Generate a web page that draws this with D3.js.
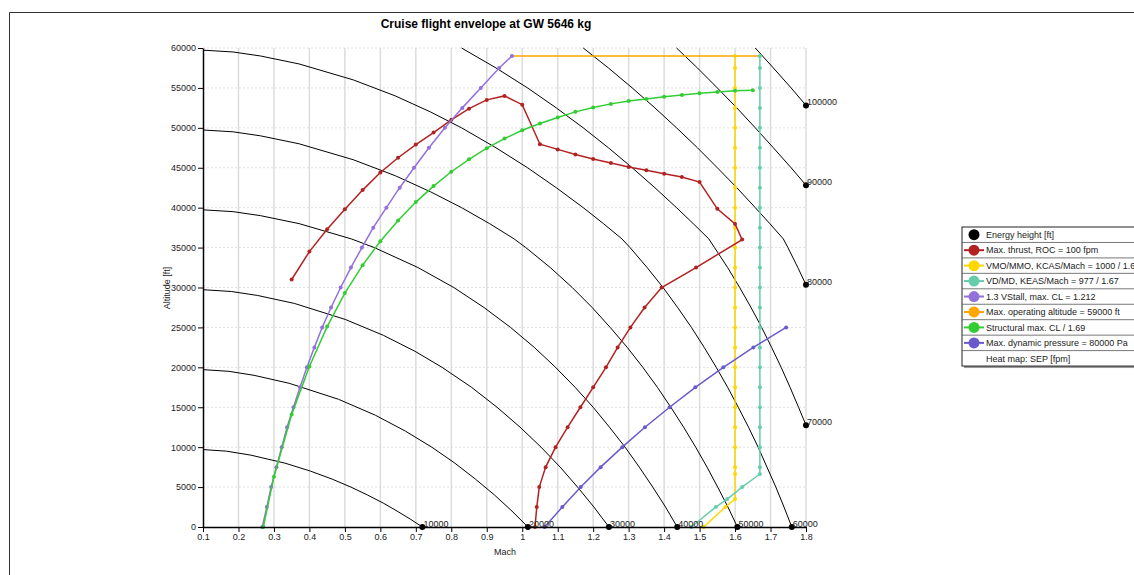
<!DOCTYPE html>
<html><head><meta charset="utf-8">
<script src="https://cdn.jsdelivr.net/npm/d3@7"></script>
<style>
body{margin:0;background:#fff;}
text{font-family:"Liberation Sans",Arial,sans-serif;}
</style></head>
<body><svg id="c" width="1134" height="575"></svg>
<script>
// ---------- data ----------
const xTicks = [0.1,0.2,0.3,0.4,0.5,0.6,0.7,0.8,0.9,1,1.1,1.2,1.3,1.4,1.5,1.6,1.7,1.8];
const yTicks = [0,5000,10000,15000,20000,25000,30000,35000,40000,45000,50000,55000,60000];

// energy height curves [Mach, altitude ft]
const energy10000 = [[0,10000],[0.166,9500],[0.235,9000],[0.331,8000],[0.403,7000],[0.464,6000],[0.517,5000],[0.564,4000],[0.608,3000],[0.647,2000],[0.684,1000],[0.7185,0]];
const energy20000 = [[0,20000],[0.173,19500],[0.244,19000],[0.343,18000],[0.482,16000],[0.586,14000],[0.671,12000],[0.745,10000],[0.810,8000],[0.868,6000],[0.922,4000],[0.971,2000],[1.016,0]];
const energy30000 = [[0,30000],[0.180,29500],[0.254,29000],[0.358,28000],[0.501,26000],[0.609,24000],[0.698,22000],[0.774,20000],[0.857,17500],[0.929,15000],[0.994,12500],[1.053,10000],[1.107,7500],[1.156,5000],[1.202,2500],[1.2445,0]];
const energy40000 = [[0,40000],[0.185,39500],[0.262,39000],[0.371,38000],[0.518,36089],[0.583,35000],[0.706,32500],[0.807,30000],[0.892,27500],[0.967,25000],[1.034,22500],[1.094,20000],[1.149,17500],[1.200,15000],[1.246,12500],[1.290,10000],[1.330,7500],[1.368,5000],[1.404,2500],[1.437,0]];
const energy50000 = [[0,50000],[0.185,49500],[0.262,49000],[0.371,48000],[0.524,46000],[0.642,44000],[0.741,42000],[0.829,40000],[0.908,38000],[0.977,36089],[1.010,35000],[1.079,32500],[1.141,30000],[1.197,27500],[1.248,25000],[1.296,22500],[1.340,20000],[1.381,17500],[1.419,15000],[1.455,12500],[1.489,10000],[1.521,7500],[1.551,5000],[1.580,2500],[1.6066,0]];
const energy60000 = [[0,60000],[0.185,59500],[0.262,59000],[0.371,58000],[0.524,56000],[0.642,54000],[0.741,52000],[0.829,50000],[0.926,47500],[1.015,45000],[1.096,42500],[1.172,40000],[1.229,38000],[1.281,36089],[1.304,35000],[1.352,32500],[1.397,30000],[1.438,27500],[1.477,25000],[1.513,22500],[1.547,20000],[1.579,17500],[1.609,15000],[1.638,12500],[1.665,10000],[1.690,7500],[1.715,5000],[1.738,2500],[1.760,0]];
const energy70000 = [[0.829,60000],[0.926,57500],[1.015,55000],[1.096,52500],[1.172,50000],[1.243,47500],[1.310,45000],[1.374,42500],[1.435,40000],[1.482,38000],[1.526,36089],[1.542,35000],[1.579,32500],[1.613,30000],[1.645,27500],[1.675,25000],[1.703,22500],[1.730,20000],[1.755,17500],[1.779,15000],[1.8,12750]];
const energy80000 = [[1.172,60000],[1.243,57500],[1.310,55000],[1.374,52500],[1.435,50000],[1.494,47500],[1.550,45000],[1.605,42500],[1.657,40000],[1.698,38000],[1.736,36089],[1.749,35000],[1.777,32500],[1.8,30330]];
const energy90000 = [[1.435,60000],[1.494,57500],[1.550,55000],[1.605,52500],[1.657,50000],[1.708,47500],[1.758,45000],[1.8,42810]];
const energy100000 = [[1.657,60000],[1.708,57500],[1.758,55000],[1.8,52810]];
const energyLevels = [10000,20000,30000,40000,50000,60000,70000,80000,90000,100000];

const maxThrust = [[0.35,31000],[0.40,34500],[0.45,37300],[0.50,39800],[0.55,42200],[0.60,44400],[0.65,46250],[0.70,47900],[0.75,49400],[0.80,51000],[0.85,52400],[0.90,53500],[0.95,54000],[1.00,52900],[1.05,47950],[1.10,47300],[1.15,46650],[1.20,46100],[1.25,45600],[1.30,45100],[1.35,44700],[1.40,44250],[1.45,43850],[1.50,43200],[1.55,39850],[1.60,37950],[1.62,36000],[1.49,32500],[1.393,30000],[1.345,27500],[1.305,25000],[1.269,22500],[1.236,20000],[1.200,17500],[1.164,15000],[1.128,12500],[1.094,10000],[1.066,7500],[1.048,5000],[1.041,2500],[1.036,0]];
const vmo = [[1.6,59000],[1.6,57500],[1.6,55000],[1.6,52500],[1.6,50000],[1.6,47500],[1.6,45000],[1.6,42500],[1.6,40000],[1.6,37500],[1.6,35000],[1.6,32500],[1.6,30000],[1.6,27500],[1.6,25000],[1.6,22500],[1.6,20000],[1.6,17500],[1.6,15000],[1.6,12500],[1.6,10000],[1.6,7500],[1.6,6640],[1.6,3500],[1.5726,2500],[1.5116,0]];
const vd = [[1.67,59000],[1.67,57500],[1.67,55000],[1.67,52500],[1.67,50000],[1.67,47500],[1.67,45000],[1.67,42500],[1.67,40000],[1.67,37500],[1.67,35000],[1.67,32500],[1.67,30000],[1.67,27500],[1.67,25000],[1.67,22500],[1.67,20000],[1.67,17500],[1.67,15000],[1.67,12500],[1.67,10000],[1.67,7500],[1.67,6640],[1.62,5000],[1.578,3500],[1.5455,2500],[1.4767,0]];
const vstall = [[0.267,0],[0.28,2500],[0.292,5000],[0.307,7500],[0.322,10000],[0.337,12500],[0.355,15000],[0.3735,17500],[0.393,20000],[0.414,22500],[0.436,25000],[0.461,27500],[0.488,30000],[0.517,32500],[0.548,35000],[0.58,37500],[0.617,40000],[0.6545,42500],[0.695,45000],[0.737,47500],[0.782,50000],[0.831,52500],[0.883,55000],[0.935,57500],[0.971,59000]];
const maxAlt = [[0.971,59000],[1.67,59000]];
const structCL = [[0.27,0],[0.30,6300],[0.35,14100],[0.40,20100],[0.45,25100],[0.50,29300],[0.55,32800],[0.60,35800],[0.65,38400],[0.70,40700],[0.75,42700],[0.80,44500],[0.85,46050],[0.90,47450],[0.95,48650],[1.00,49700],[1.05,50550],[1.10,51300],[1.15,52000],[1.20,52550],[1.25,53000],[1.30,53350],[1.35,53620],[1.40,53900],[1.45,54100],[1.50,54320],[1.55,54500],[1.60,54650],[1.65,54720]];
const maxQ = [[1.063,0],[1.113,2500],[1.165,5000],[1.221,7500],[1.282,10000],[1.346,12500],[1.4155,15000],[1.488,17500],[1.567,20000],[1.6515,22500],[1.744,25000]];

const legendLabels = ["Energy  height [ft]","Max. thrust, ROC = 100 fpm","VMO/MMO, KCAS/Mach = 1000  / 1.6","VD/MD, KEAS/Mach = 977  / 1.67","1.3 VStall,  max.  CL = 1.212","Max. operating  altitude  = 59000 ft","Structural max.  CL / 1.69","Max. dynamic  pressure  = 80000 Pa","Heat map:  SEP [fpm]"];
const legendColors = ["#000000","#B22222","#FFD700","#66CDAA","#9370DB","#FFA500","#32CD32","#6A5ACD",null];

// ---------- chart ----------
const svg = d3.select("#c");
const x = d3.scaleLinear().domain([0.1,1.8]).range([203,806]);
const y = d3.scaleLinear().domain([0,60000]).range([527,48]);

// outer frame
svg.append("path").attr("d","M9.5,575 L9.5,12.5 L1134,12.5").attr("fill","none").attr("stroke","#333").attr("stroke-width",1);

// title
svg.append("text").attr("x",486).attr("y",28).attr("text-anchor","middle")
  .attr("font-size",12).attr("font-weight","bold").text("Cruise flight envelope at GW 5646 kg");

// grid
svg.append("g").selectAll("line").data(xTicks.slice(1)).join("line")
  .attr("x1",d=>x(d)).attr("x2",d=>x(d)).attr("y1",y(60000)).attr("y2",y(0))
  .attr("stroke","#dcdcdc").attr("stroke-width",1.5);
svg.append("g").selectAll("line").data(yTicks.slice(1)).join("line")
  .attr("x1",x(0.1)).attr("x2",x(1.8)).attr("y1",d=>y(d)).attr("y2",d=>y(d))
  .attr("stroke","#d8d8d8").attr("stroke-width",0.8).attr("stroke-dasharray","2,2");

// clip
svg.append("defs").append("clipPath").attr("id","pc").append("rect")
  .attr("x",x(0.1)).attr("y",y(60000)-2).attr("width",x(1.8)-x(0.1)+1).attr("height",y(0)-y(60000)+2);

const line = d3.line().x(d=>x(d[0])).y(d=>y(d[1]));
const energyCurves = [energy10000,energy20000,energy30000,energy40000,energy50000,energy60000,energy70000,energy80000,energy90000,energy100000];

const ge = svg.append("g").attr("clip-path","url(#pc)");
energyCurves.forEach(c=>{
  ge.append("path").attr("d",line(c)).attr("fill","none").attr("stroke","#000").attr("stroke-width",1);
});

// series
function series(data,color,markers){
  const g = svg.append("g");
  g.append("path").attr("d",line(data)).attr("fill","none").attr("stroke",color).attr("stroke-width",1.5);
  if(markers) g.selectAll("circle").data(data).join("circle")
    .attr("cx",d=>x(d[0])).attr("cy",d=>y(d[1])).attr("r",2).attr("fill",color);
}
series(maxAlt,"#FFA500",false);
series(vmo,"#FFD700",true);
series(vd,"#66CDAA",true);
series(maxThrust,"#B22222",true);
series(vstall,"#9370DB",true);
series(structCL,"#32CD32",true);
series(maxQ,"#6A5ACD",true);

// axes
const xAxis = d3.axisBottom(x).tickValues(xTicks).tickFormat(d=>d3.format("")(+d.toFixed(1))).tickSize(5).tickSizeOuter(0);
const gx = svg.append("g").attr("transform",`translate(0,${y(0)})`).call(xAxis);
gx.select(".domain").attr("stroke","#000").attr("stroke-width",1.5);
gx.selectAll("text").attr("font-size",9).attr("fill","#222").attr("dy","0.75em").attr("y",6);
const yAxis = d3.axisLeft(y).tickValues(yTicks).tickFormat(d3.format("d")).tickSize(5).tickSizeOuter(0);
const gy = svg.append("g").attr("transform",`translate(${x(0.1)},0)`).call(yAxis);
gy.select(".domain").attr("stroke","#000").attr("stroke-width",1.5);
gy.selectAll("text").attr("font-size",9).attr("fill","#222").attr("x",-7);

// energy end dots and labels (drawn over axis)
energyCurves.forEach((c,i)=>{
  const p = c[c.length-1];
  svg.append("circle").attr("cx",x(p[0])).attr("cy",y(p[1])).attr("r",3).attr("fill","#000");
  svg.append("text").attr("x",x(p[0])+1).attr("y",y(p[1])).attr("font-size",9).attr("fill","#222").text(energyLevels[i]);
});

// axis labels
svg.append("text").attr("x",505).attr("y",555).attr("text-anchor","middle").attr("font-size",9).attr("fill","#222").text("Mach");
svg.append("text").attr("transform","translate(170,288) rotate(-90)").attr("text-anchor","middle").attr("font-size",9).attr("fill","#222").text("Altitude  [ft]");

// legend
const lx = 962, ly = 227, rowH = 15.45, lw = 200;
const lg = svg.append("g");
lg.append("rect").attr("x",lx+2).attr("y",ly+2).attr("width",lw).attr("height",rowH*9).attr("fill","#999");
lg.append("rect").attr("x",lx).attr("y",ly).attr("width",lw).attr("height",rowH*9).attr("fill","#fff").attr("stroke","#222").attr("stroke-width",1);
legendLabels.forEach((t,i)=>{
  const cy = ly + rowH*i + rowH/2;
  if(i>0) lg.append("line").attr("x1",lx).attr("x2",lx+lw).attr("y1",ly+rowH*i).attr("y2",ly+rowH*i).attr("stroke","#555").attr("stroke-width",0.8);
  const c = legendColors[i];
  if(c){
    if(i>0) lg.append("line").attr("x1",lx+2).attr("x2",lx+22).attr("y1",cy).attr("y2",cy).attr("stroke",c).attr("stroke-width",2);
    lg.append("circle").attr("cx",lx+12).attr("cy",cy).attr("r",5.5).attr("fill",c);
  }
  lg.append("text").attr("x",lx+24).attr("y",cy+3.2).attr("font-size",9).attr("fill","#222").text(t);
});
</script></body></html>
